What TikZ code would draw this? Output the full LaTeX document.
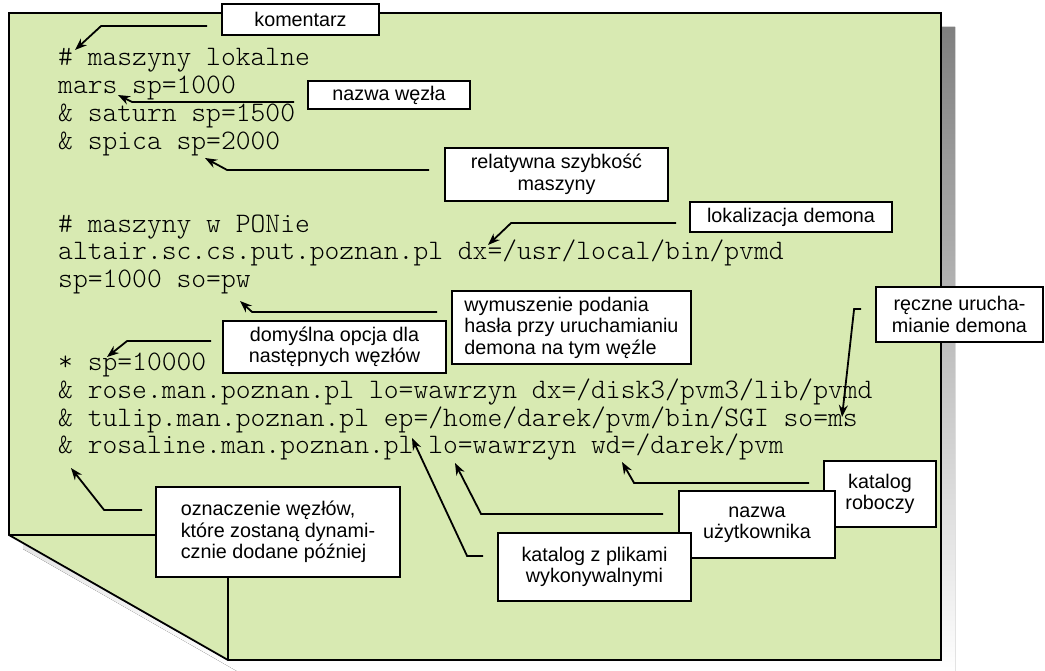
\documentclass[tikz,border=0pt]{standalone}
\usepackage{fontspec}
\setmainfont{Liberation Sans}
\newfontfamily\monofont[Extension=.otf]{lmmonolt10-regular}
\usetikzlibrary{arrows.meta}
\definecolor{sheet}{RGB}{216,234,178}
\definecolor{shade}{RGB}{128,128,128}

\begin{document}
\begin{tikzpicture}[x=1pt,y=-1pt,
    remark/.style={draw, line width=1.8pt, fill=white, inner sep=0pt, align=center,
      font=\fontsize{19.75}{21.5}\selectfont},
    codeline/.style={anchor=base west, inner sep=0pt, text=black,
      font=\monofont\fontsize{28.2}{27.7}\selectfont},
    pointer/.style={-{Stealth[length=12pt,width=9pt]}, line width=1.8pt}]
    \useasboundingbox (0,0) rectangle (1045,671);
    \fill[shade] (23,27) -- (955,27) -- (955,674) -- (242,674) -- (23,549) -- cycle;
    \draw[line width=1.8pt, fill=sheet] (9,13) -- (941,13) -- (941,660) -- (228,660) -- (9,535) -- cycle;
    \draw[line width=1.8pt] (9,535) -- (228,535) -- (228,660);

    \node[codeline] (l0) at (58,66) {\# maszyny lokalne};
    \node[codeline] (l1) at (58,93.7) {mars sp=1000};
    \node[codeline] (l2) at (58,121.4) {\& saturn sp=1500};
    \node[codeline] (l3) at (58,149.1) {\& spica sp=2000};
    \node[codeline] (l6) at (58,232.2) {\# maszyny w PONie};
    \node[codeline] (l7) at (58,259.9) {altair.sc.cs.put.poznan.pl dx=/usr/local/bin/pvmd};
    \node[codeline] (l8) at (58,287.6) {sp=1000 so=pw};
    \node[codeline] (l11) at (58,370.7) {* sp=10000};
    \node[codeline] (l12) at (58,398.4) {\& rose.man.poznan.pl lo=wawrzyn dx=/disk3/pvm3/lib/pvmd};
    \node[codeline] (l13) at (58,426.1) {\& tulip.man.poznan.pl ep=/home/darek/pvm/bin/SGI so=ms};
    \node[codeline] (l14) at (58,453.8) {\& rosaline.man.poznan.pl lo=wawrzyn wd=/darek/pvm};

    \node[remark, minimum width=157, minimum height=31] (kom) at (300.5,19.5) {komentarz};
    \node[remark, minimum width=162, minimum height=28] (wezel) at (389,95) {nazwa węzła};
    \node[remark, minimum width=223, minimum height=53] (szyb) at (556.5,174.5) {relatywna szybkość\\maszyny};
    \node[remark, minimum width=202, minimum height=30] (lok) at (791,217) {lokalizacja demona};
    \node[remark, minimum width=239, minimum height=73, align=left] (wym) at (571.5,327.5) {wymuszenie podania\\hasła przy uruchamianiu\\demona na tym węźle};
    \node[remark, minimum width=223, minimum height=52] (dom) at (334.5,347) {domyślna opcja dla\\następnych węzłów};
    \node[remark, minimum width=167, minimum height=55] (recz) at (959.5,314.5) {ręczne urucha-\\mianie demona};
    \node[remark, minimum width=112, minimum height=66] (kat) at (880,494) {katalog\\roboczy};
    \node[remark, minimum width=156, minimum height=67] (uzyt) at (757,524.5) {nazwa\\użytkownika};
    \node[remark, minimum width=193, minimum height=68] (plik) at (594.5,567) {katalog z plikami\\wykonywalnymi};
    \node[remark, minimum width=244, minimum height=90, align=left] (ozn) at (278,532) {oznaczenie węzłów,\\które zostaną dynami-\\cznie dodane później};

    \coordinate (t-kom) at (75,50);
    \coordinate (t-wezel) at (118,95);
    \coordinate (t-szyb) at (205,158);
    \coordinate (t-lok) at (488,245);
    \coordinate (t-wym) at (240,301);
    \coordinate (t-dom) at (107,357);
    \coordinate (t-recz) at (842,417);
    \coordinate (t-kat) at (622,462);
    \coordinate (t-uzyt) at (455,463);
    \coordinate (t-plik) at (412,438);
    \coordinate (t-ozn) at (71,468);

    \draw[pointer] ([xshift=-14pt,yshift=-6.5pt]kom.west) -- ++(-106,0) -- (t-kom);
    \draw[pointer] ([xshift=-13pt,yshift=-7pt]wezel.west) -- ++(-162,0) -- (t-wezel);
    \draw[pointer] ([xshift=-15pt,yshift=4.5pt]szyb.west) -- ++(-202,0) -- (t-szyb);
    \draw[pointer] ([xshift=-13pt,yshift=-6pt]lok.west) -- ++(-165,0) -- (t-lok);
    \draw[pointer] ([xshift=-14pt,yshift=15.5pt]wym.west) -- ++(-185,0) -- (t-wym);
    \draw[pointer] ([xshift=-11pt,yshift=6pt]dom.west) -- ++(-84,0) -- (t-dom);
    \draw[pointer] ([xshift=-14pt,yshift=5.5pt]recz.west) -- ++(-7,0) -- (t-recz);
    \draw[pointer] ([xshift=-14pt,yshift=11pt]kat.west) -- ++(-175,0) -- (t-kat);
    \draw[pointer] ([xshift=-15pt,yshift=10.5pt]uzyt.west) -- ++(-182,0) -- (t-uzyt);
    \draw[pointer] ([xshift=-14pt,yshift=11pt]plik.west) -- ++(-16,0) -- (t-plik);
    \draw[pointer] ([xshift=-13pt,yshift=22pt]ozn.west) -- ++(-38,0) -- (t-ozn);
\end{tikzpicture}
\end{document}
